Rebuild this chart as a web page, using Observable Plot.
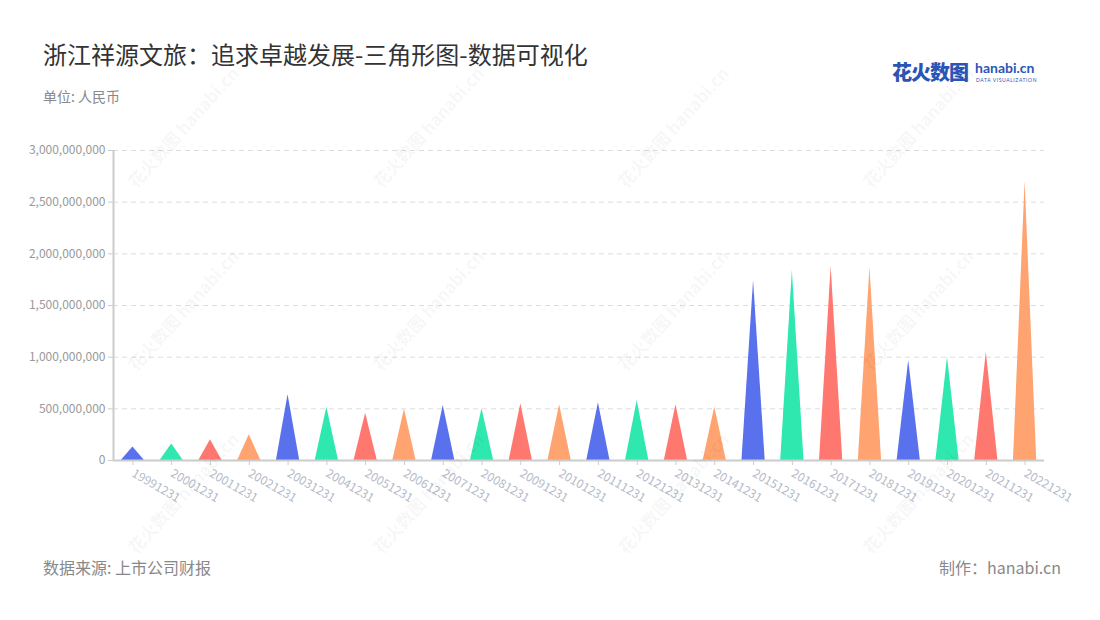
<!DOCTYPE html>
<html>
<head>
<meta charset="utf-8">
<script src="https://cdn.jsdelivr.net/npm/d3@7"></script>
<script src="https://cdn.jsdelivr.net/npm/@observablehq/plot@0.6"></script>
<style>
  html, body { margin: 0; padding: 0; background: #fff; }
  body { width: 1100px; height: 620px; position: relative; overflow: hidden; font-family: "Noto Sans CJK SC", "Noto Sans", sans-serif; }
  .title { position: absolute; left: 43px; top: 37px; font-size: 24px; line-height: 34px; color: #333; }
  .subtitle { position: absolute; left: 43px; top: 86px; font-size: 14px; line-height: 20px; color: #888; }
  .source { position: absolute; left: 43px; top: 556px; font-size: 16px; line-height: 22px; color: #888; }
  .credit { position: absolute; right: 39px; top: 556px; font-size: 16px; line-height: 22px; color: #888; }
  .logo-cn { position: absolute; left: 892px; top: 59px; font-size: 20px; line-height: 26px; font-weight: 900; color: #2b55b5; letter-spacing: -1px; }
  .logo-en { position: absolute; left: 975px; top: 60px; font-size: 14px; line-height: 16px; font-weight: 700; color: #2b55b5; font-family: "Lato", sans-serif; }
  .logo-sub { position: absolute; left: 976px; top: 77px; font-size: 5px; line-height: 6px; color: #2b55b5; letter-spacing: 0.6px; font-family: "Lato", sans-serif; }
  #chart { position: absolute; left: 0; top: 120px; }
  .wm { position: absolute; color: rgba(0,0,0,0.05); font-size: 17px; line-height: 20px; font-weight: 700; transform: translate(-50%,-50%) rotate(-48deg); white-space: nowrap; pointer-events: none; z-index: 5; }
</style>
</head>
<body>
<div class="title">浙江祥源文旅：追求卓越发展-三角形图-数据可视化</div>
<div class="subtitle">单位: 人民币</div>
<div class="logo-cn">花火数图</div>
<div class="logo-en">hanabi.cn</div>
<div class="logo-sub">DATA VISUALIZATION</div>
<div id="chart"></div>
<div class="source">数据来源: 上市公司财报</div>
<div class="credit">制作：hanabi.cn</div>
<script>
const dates = ["19991231","20001231","20011231","20021231","20031231","20041231","20051231","20061231","20071231","20081231","20091231","20101231","20111231","20121231","20131231","20141231","20151231","20161231","20171231","20181231","20191231","20201231","20211231","20221231"];
const values = [130000000,160000000,200000000,248000000,636000000,516000000,458000000,497000000,532000000,500000000,549000000,539000000,558000000,581000000,539000000,516000000,1742000000,1839000000,1877000000,1865000000,968000000,1000000000,1048000000,2703000000];
const palette = ["#5a71ee","#2ee8b0","#ff7870","#ffa370"];
const yTicks = [0,500000000,1000000000,1500000000,2000000000,2500000000,3000000000];

const half = 0.3;
const tri = [];
dates.forEach((d, i) => {
  const c = palette[i % 4];
  tri.push({x: i - half, y: 0, k: d, c});
  tri.push({x: i, y: values[i], k: d, c});
  tri.push({x: i + half, y: 0, k: d, c});
});

const chart = Plot.plot({
  width: 1100,
  height: 410,
  marginTop: 30,
  marginBottom: 70,
  marginLeft: 113,
  marginRight: 56,
  style: {fontFamily: "'Noto Sans CJK SC', 'Noto Sans', sans-serif", fontSize: "12px", background: "transparent"},
  x: {type: "linear", domain: [-0.5, dates.length - 0.5]},
  y: {domain: [0, 3000000000]},
  color: {type: "identity"},
  marks: [
    Plot.ruleY(yTicks.slice(1), {stroke: "#ddd", strokeDasharray: "5,4", strokeWidth: 1}),
    Plot.areaY(tri, {x: "x", y: "y", z: "k", fill: "c", curve: "linear"}),
    Plot.ruleY([0], {stroke: "#ccc", strokeWidth: 2}),
    Plot.ruleX([-0.5], {stroke: "#ccc", strokeWidth: 2}),
    Plot.axisY({ticks: yTicks, tickFormat: d3.format(","), tickSize: 5, tickPadding: 3, stroke: "#ccc", color: "#999", fontSize: 12, label: null}),
    Plot.axisX({ticks: d3.range(dates.length), tickFormat: i => dates[i], tickSize: 5, tickRotate: 30, tickPadding: 7, stroke: "#ccc", color: "#b5bac8", fontSize: 12, label: null})
  ]
});
document.getElementById("chart").appendChild(chart);

const wmX = [183, 428, 673, 918];
const wmY = [127, 310, 493];
wmY.forEach(y => wmX.forEach(x => {
  const el = document.createElement("div");
  el.className = "wm";
  el.style.left = x + "px";
  el.style.top = y + "px";
  el.textContent = "花火数图 hanabi.cn";
  document.body.appendChild(el);
}));
</script>
</body>
</html>
